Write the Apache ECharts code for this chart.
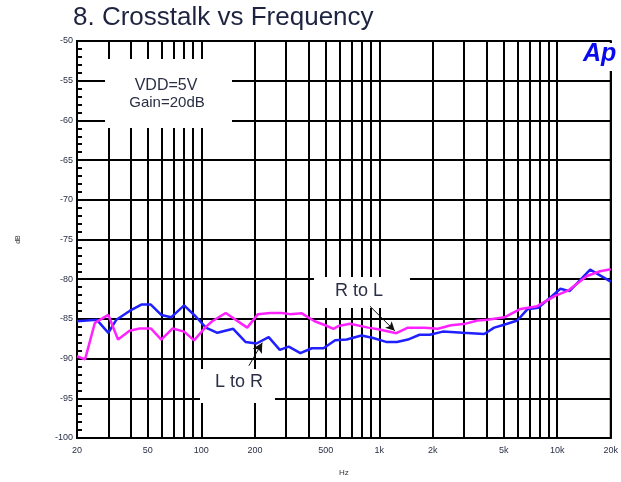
<!DOCTYPE html>
<html>
<head>
<meta charset="utf-8">
<script src="https://cdn.jsdelivr.net/npm/echarts@6/dist/echarts.min.js"></script>
<style>html,body{margin:0;padding:0;background:#fff}#c{width:621px;height:482px}</style>
</head>
<body>
<div id="c"></div>
<script>
// Tick values
const xGridTicks = [20,30,40,50,60,70,80,90,100,200,300,400,500,600,700,800,900,1000,2000,3000,4000,5000,6000,7000,8000,9000,10000,20000];
const xLabelTicks = [20,50,100,200,500,1000,2000,5000,10000,20000];
const yTicks = [-100,-95,-90,-85,-80,-75,-70,-65,-60,-55,-50];

// L to R (blue)
const blueFreq = [20,25.8,30,33.3,39.5,46,52,59.5,67.6,80,93,106,123,151,177,204,239,276,310,360,418,486,565,656,794,924,1092,1258,1449,1682,1924,2274,2944,3888,4426,5082,5970,6792,7817,9160,10424,11725,15320,20000];
const blueDb = [-85.3,-85.1,-86.75,-85.1,-84.0,-83.2,-83.2,-84.5,-84.8,-83.3,-84.7,-86.1,-86.75,-86.25,-87.9,-88.1,-87.3,-88.9,-88.5,-89.3,-88.7,-88.7,-87.7,-87.6,-87.1,-87.4,-87.9,-87.9,-87.6,-87.0,-87.0,-86.6,-86.75,-86.9,-86.1,-85.7,-85.2,-83.8,-83.6,-82.3,-81.2,-81.5,-78.8,-80.3];

// R to L (magenta)
const pinkFreq = [20,22.2,25.2,30,34,39.5,45,52,59.5,69,80,91,106,115,137,181,208,244,284,314,367,433,497,552,589,685,867,986,1247,1449,1798,2134,2530,3057,3567,4058,5050,6224,7723,9730,11586,14690,17424,20000];
const pinkDb = [-89.7,-90.1,-85.5,-84.5,-87.6,-86.5,-86.2,-86.2,-87.6,-86.2,-86.6,-87.7,-86.0,-85.3,-84.25,-86.1,-84.4,-84.25,-84.25,-84.4,-84.3,-85.3,-85.8,-86.25,-85.9,-85.6,-86.1,-86.3,-86.8,-86.1,-86.1,-86.25,-85.8,-85.6,-85.2,-85.1,-84.8,-83.75,-83.4,-82.1,-81.4,-79.6,-79.0,-78.75];

const zip = (a, b) => a.map((v, i) => [v, b[i]]);
const fmtHz = v => v >= 1000 ? (v / 1000) + 'k' : String(v);
const FONT = 'Liberation Sans, Arial, sans-serif';

const chart = echarts.init(document.getElementById('c'), null, {renderer: 'canvas'});
chart.setOption({
  animation: false,
  backgroundColor: '#fff',
  title: {
    text: '8. Crosstalk vs Frequency',
    left: 73, top: 5, padding: 0,
    textStyle: {fontFamily: FONT, fontSize: 26, fontWeight: 'normal', color: '#1e2440'}
  },
  grid: {left: 77, top: 41, right: 6, bottom: 42, show: true, borderColor: '#000', borderWidth: 2, backgroundColor: '#fff'},
  xAxis: {
    type: 'log', logBase: 10, min: 20, max: 20000,
    name: 'Hz', nameLocation: 'middle', nameGap: 31,
    nameTextStyle: {fontFamily: FONT, fontSize: 8, color: '#333'},
    axisLine: {show: true, lineStyle: {color: '#000', width: 2}},
    axisTick: {show: false, customValues: xGridTicks},
    axisLabel: {customValues: xLabelTicks, formatter: fmtHz, fontFamily: FONT, fontSize: 9, color: '#2a2f45', margin: 8},
    splitLine: {show: true, lineStyle: {color: '#000', width: 2}},
    minorTick: {show: false}, minorSplitLine: {show: false}
  },
  yAxis: {
    type: 'value', min: -100, max: -50, interval: 5,
    name: 'dB', nameLocation: 'middle', nameGap: 55, nameRotate: 90,
    nameTextStyle: {fontFamily: FONT, fontSize: 7, color: '#333'},
    axisLine: {show: true, lineStyle: {color: '#000', width: 2}},
    axisTick: {show: true, inside: true, length: 6, lineStyle: {color: '#000', width: 2}},
    minorTick: {show: true, splitNumber: 5, length: 5, lineStyle: {color: '#000', width: 2}},
    axisLabel: {fontFamily: FONT, fontSize: 9, color: '#2a2f45', margin: 4},
    splitLine: {show: true, lineStyle: {color: '#000', width: 2}}
  },
  series: [
    {
      name: 'L to R', type: 'line', data: zip(blueFreq, blueDb), showSymbol: false, symbol: 'none',
      lineStyle: {color: '#1f1fff', width: 2.5}, z: 3,
      markLine: {
        silent: true, symbol: ['none', 'arrow'], symbolSize: [8, 10],
        lineStyle: {color: '#111', width: 1, type: 'solid'}, label: {show: false},
        data: [[{coord: [185, -90.9]}, {coord: [220, -88.0]}]]
      }
    },
    {
      name: 'R to L', type: 'line', data: zip(pinkFreq, pinkDb), showSymbol: false, symbol: 'none',
      lineStyle: {color: '#ff22ff', width: 2.5}, z: 4,
      markLine: {
        silent: true, symbol: ['none', 'arrow'], symbolSize: [7, 9],
        lineStyle: {color: '#111', width: 1, type: 'solid'}, label: {show: false},
        data: [[{coord: [886, -83.4]}, {coord: [1222, -86.5]}]]
      }
    }
  ],
  graphic: [
    {type: 'rect', z: 5, shape: {x: 105, y: 59, width: 127, height: 69}, style: {fill: '#fff'}},
    {type: 'text', z: 6, x: 166, y: 78, style: {text: 'VDD=5V', font: '16px ' + FONT, fill: '#2a2f45', textAlign: 'center'}},
    {type: 'text', z: 6, x: 167, y: 95, style: {text: 'Gain=20dB', font: '15px ' + FONT, fill: '#2a2f45', textAlign: 'center'}},
    {type: 'rect', z: 5, shape: {x: 314, y: 277, width: 96, height: 31}, style: {fill: '#fff'}},
    {type: 'text', z: 6, x: 359, y: 282, style: {text: 'R to L', font: '18px ' + FONT, fill: '#2a2f45', textAlign: 'center'}},
    {type: 'rect', z: 5, shape: {x: 200, y: 369, width: 75, height: 34}, style: {fill: '#fff'}},
    {type: 'text', z: 6, x: 239, y: 373, style: {text: 'L to R', font: '18px ' + FONT, fill: '#2a2f45', textAlign: 'center'}},
    {type: 'rect', z: 5, shape: {x: 568, y: 43, width: 45, height: 28}, style: {fill: '#fff'}},
    {type: 'text', z: 6, x: 583, y: 42, style: {text: 'Ap', font: 'italic bold 25px ' + FONT, fill: '#0a0aee'}}
  ]
});
</script>
</body>
</html>
